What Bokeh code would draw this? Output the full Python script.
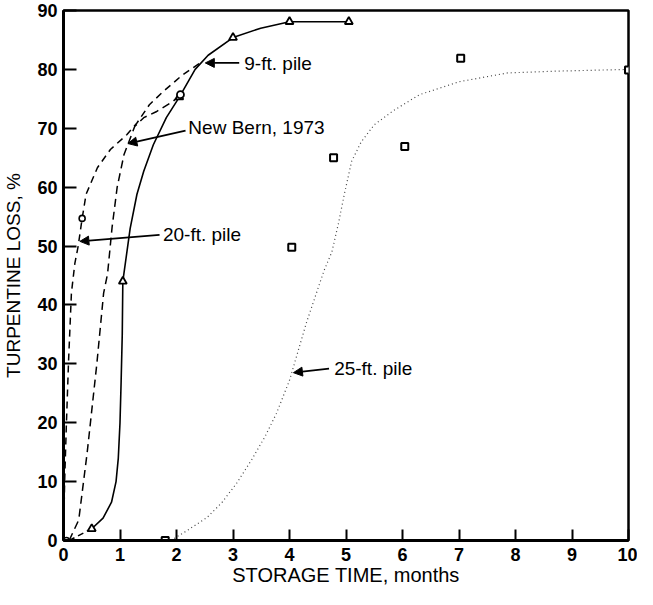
from bokeh.plotting import figure
from bokeh.models import Range1d, Arrow, NormalHead, Label, FixedTicker
from bokeh.embed import file_html
from bokeh.resources import INLINE

# ---- data ----
# 9-ft pile (triangles, solid line)
nine_pts_x = [0.5, 1.05, 2.05, 3.0, 4.0, 5.05]
nine_pts_y = [2, 44, 75.3, 85.4, 88.1, 88.1]
nine_lead_x = [0.1, 0.5]
nine_lead_y = [0, 2]
nine_curve_x = [0.5, 0.7, 0.85, 0.93, 0.97, 1.0, 1.02, 1.04, 1.05, 1.18, 1.3, 1.42, 1.59, 1.82, 2.05, 2.33, 2.56, 3.0, 3.49, 4.0, 5.05]
nine_curve_y = [2, 3.8, 6.5, 10, 14, 20, 27, 35, 44, 53, 58.8, 62.7, 67.2, 71.8, 75.3, 80, 82.4, 85.4, 87, 88.1, 88.1]

# 20-ft pile (circles, dashed)
twenty_pts_x = [0.05, 0.33]
twenty_pts_y = [0, 54.7]
twenty_curve_x = [0.0, 0.02, 0.05, 0.09, 0.14, 0.2, 0.26, 0.33, 0.4, 0.6, 0.83, 1.12, 1.3, 1.52, 1.76, 2.1, 2.45]
twenty_curve_y = [0, 10, 19.4, 30.6, 42, 47, 50, 54.7, 58.8, 63.3, 66.4, 68.9, 70.9, 74, 76.2, 79, 81.3]

# New Bern, 1973 (dashed)
nb_pts_x = [2.07]
nb_pts_y = [75.7]
nb_curve_x = [0.1, 0.27, 0.42, 0.59, 0.71, 0.78, 0.86, 0.95, 1.07, 1.26, 1.42, 1.64, 1.93, 2.07]
nb_curve_y = [0, 3.5, 15, 30, 42, 45.3, 53.2, 60, 65.5, 70.3, 71.8, 72.8, 74.5, 75.7]

# 25-ft pile (squares, dotted)
tf_pts_x = [1.8, 4.04, 4.78, 6.04, 7.03, 10.0]
tf_pts_y = [0, 49.8, 65, 66.9, 81.9, 79.9]
tf_curve_x = [1.9, 2.19, 2.54, 2.8, 3.07, 3.33, 3.57, 3.77, 4.0, 4.3, 4.61, 4.75, 4.87, 4.97, 5.1, 5.27, 5.5, 5.84, 6.3, 7.0, 7.86, 8.72, 10.0]
tf_curve_y = [0, 1.7, 3.9, 6.4, 9.8, 13.7, 17.7, 21.6, 27.2, 37, 45.8, 49, 54, 58.8, 64.4, 67.7, 70.6, 73, 75.7, 77.9, 79.4, 79.7, 80]

x_ticks = [0, 1, 2, 3, 4, 5, 6, 7, 8, 9, 10]
y_ticks = [0, 10, 20, 30, 40, 50, 60, 70, 80, 90]

# annotations: text, text x, text y, arrow tail x, tail y, head x, head y
ann_text = ["9-ft. pile", "New Bern, 1973", "20-ft. pile", "25-ft. pile"]
ann_tx = [3.2, 2.21, 1.76, 4.79]
ann_ty = [81.0, 70.1, 51.9, 29.2]
ann_x0 = [3.11, 2.16, 1.70, 4.70]
ann_y0 = [81.1, 69.6, 51.9, 29.2]
ann_x1 = [2.51, 1.14, 0.29, 4.07]
ann_y1 = [81.1, 67.4, 50.8, 28.5]

FONT = "Liberation Sans"

p = figure(width=637, height=589, output_backend="svg", toolbar_location=None,
           x_range=Range1d(0, 10), y_range=Range1d(0, 90),
           min_border_left=58, min_border_right=9, min_border_top=10, min_border_bottom=49)
p.background_fill_color = "white"
p.border_fill_color = "white"
p.grid.visible = False
p.outline_line_color = "black"
p.outline_line_width = 2.5

for ax in (p.xaxis[0], p.yaxis[0]):
    ax.axis_line_width = 3
    ax.axis_line_color = "black"
    ax.major_tick_out = 0
    ax.major_tick_line_width = 2
    ax.minor_tick_in = 0
    ax.minor_tick_out = 0
    ax.major_label_text_font = FONT
    ax.major_label_text_font_style = "bold"
    ax.major_label_text_font_size = "18px"
    ax.major_label_text_color = "black"
    ax.axis_label_text_font = FONT
    ax.axis_label_text_font_style = "normal"
    ax.axis_label_text_color = "black"

p.xaxis.axis_label_text_font_size = "20px"
p.yaxis.axis_label_text_font_size = "19px"
p.xaxis.ticker = FixedTicker(ticks=x_ticks)
p.yaxis.ticker = FixedTicker(ticks=y_ticks)
p.xaxis.major_tick_in = 11
p.yaxis.major_tick_in = 13
p.xaxis.major_label_standoff = 7
p.yaxis.major_label_standoff = 6
p.xaxis.axis_label = "STORAGE TIME, months"
p.yaxis.axis_label = "TURPENTINE LOSS, %"
p.xaxis.axis_label_standoff = 0
p.yaxis.axis_label_standoff = 10

# curves
p.line(nine_lead_x, nine_lead_y, line_color="black", line_width=1.5, line_dash="6 4")
p.line(nine_curve_x, nine_curve_y, line_color="black", line_width=1.6)
p.line(twenty_curve_x, twenty_curve_y, line_color="black", line_width=1.5, line_dash="7 5")
p.line(nb_curve_x, nb_curve_y, line_color="black", line_width=1.5, line_dash="8 5")
p.line(tf_curve_x, tf_curve_y, line_color="#444444", line_width=1.2, line_dash="1 3")

# markers
p.scatter(nine_pts_x, nine_pts_y, marker="triangle", size=8, fill_color="white",
          line_color="black", line_width=1.8)
p.scatter(twenty_pts_x, twenty_pts_y, marker="circle", size=6, fill_color="white",
          line_color="black", line_width=1.6)
p.scatter(nb_pts_x, nb_pts_y, marker="circle", size=7, fill_color="white",
          line_color="black", line_width=1.8)
p.scatter(tf_pts_x, tf_pts_y, marker="square", size=7, fill_color="white",
          line_color="black", line_width=2)

# annotations
for t, tx, ty, x0, y0, x1, y1 in zip(ann_text, ann_tx, ann_ty, ann_x0, ann_y0, ann_x1, ann_y1):
    p.add_layout(Arrow(end=NormalHead(size=9, fill_color="black", line_color="black"),
                       x_start=x0, y_start=y0, x_end=x1, y_end=y1,
                       line_color="black", line_width=1.8))
    p.add_layout(Label(x=tx, y=ty, text=t, text_font=FONT, text_font_size="19px",
                       text_color="black", text_align="left", text_baseline="middle"))

open("out.html", "w").write(file_html(p, INLINE))
